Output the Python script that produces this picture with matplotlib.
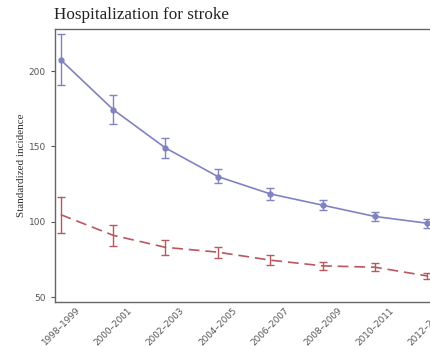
import numpy as np
import matplotlib
matplotlib.use("Agg")
import matplotlib.pyplot as plt

periods = ["1998–1999", "2000–2001", "2002–2003", "2004–2005",
           "2006–2007", "2008–2009", "2010–2011", "2012–2013"]

# upper series (solid, blue)
blue_mean = [207.5, 174.5, 149.0, 130.0, 118.5, 111.0, 103.5, 99.0]
blue_low = [190.7, 164.7, 142.0, 125.5, 114.5, 107.5, 100.5, 96.0]
blue_high = [224.5, 184.0, 155.5, 135.0, 122.5, 114.5, 106.5, 102.0]

# lower series (dashed, red)
red_mean = [104.7, 91.0, 83.0, 79.8, 74.5, 70.7, 69.8, 64.0]
red_low = [92.7, 84.0, 78.0, 75.8, 71.0, 68.0, 67.2, 62.0]
red_high = [116.2, 98.0, 88.0, 83.5, 78.0, 73.5, 72.5, 66.0]

x = np.arange(len(periods))

fig = plt.figure(figsize=(4.31, 3.5), dpi=100)
ax = fig.add_axes([55 / 431, 48 / 350, 1 - 55 / 431, 273 / 350])

ax.errorbar(x, blue_mean,
            yerr=[np.array(blue_mean) - blue_low, np.array(blue_high) - blue_mean],
            color="#8083c0", lw=1.2, marker="o", ms=3.5, capsize=3,
            elinewidth=1.0, capthick=1.0)
ax.errorbar(x, red_mean,
            yerr=[np.array(red_mean) - red_low, np.array(red_high) - red_mean],
            color="#b9575f", lw=1.2, ls=(0, (6.5, 3.5)), capsize=3,
            elinewidth=1.0, capthick=1.0)

ax.set_xlim(-0.11, 7.07)
ax.set_ylim(46.7, 228)
ax.set_yticks([50, 100, 150, 200])
ax.set_xticks(x)
ax.set_xticklabels(periods, rotation=45, ha="center")
ax.tick_params(axis="y", labelsize=6.5, labelcolor="#555555",
               color="#555555", length=3, width=0.8)
ax.tick_params(axis="x", labelsize=6.4, labelcolor="#555555",
               length=0, pad=3)
ax.spines["right"].set_visible(False)
for s in ["left", "bottom", "top"]:
    ax.spines[s].set_color("#666666")
    ax.spines[s].set_linewidth(1.0)

ax.set_ylabel("Standardized incidence", family="Liberation Serif",
              fontsize=8, color="#333333", labelpad=2)
fig.text(54 / 431, 1 - 15 / 350, "Hospitalization for stroke",
         family="Liberation Serif", fontsize=12.3, color="#222222", va="center")

fig.savefig("out.png", dpi=100)
